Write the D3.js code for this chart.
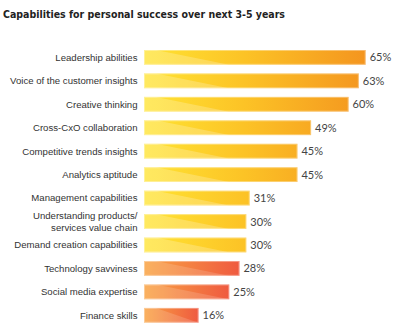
<!DOCTYPE html>
<html><head><meta charset="utf-8">
<script src="https://cdn.jsdelivr.net/npm/d3@7"></script>
<style>body{margin:0;background:#fff}svg{display:block}</style>
</head><body>
<svg id="c" width="400" height="332"></svg>
<script>
const title = "Capabilities for personal success over next 3-5 years";
const categories = [
  "Leadership abilities",
  "Voice of the customer insights",
  "Creative thinking",
  "Cross-CxO collaboration",
  "Competitive trends insights",
  "Analytics aptitude",
  "Management capabilities",
  "Understanding products/ services value chain",
  "Demand creation capabilities",
  "Technology savviness",
  "Social media expertise",
  "Finance skills"
];
const values = [65, 63, 60, 49, 45, 45, 31, 30, 30, 28, 25, 16];
const groups = ["a","a","a","a","a","a","a","a","a","b","b","b"];

const svg = d3.select("#c");
const x = d3.scaleLinear().domain([0, 100]).range([144, 485]);
const y = d3.scaleBand().domain(categories).range([50, 322.7]).paddingInner(0.37).paddingOuter(0);

const defs = svg.append("defs");
const gA = defs.append("linearGradient").attr("id","gA").attr("gradientUnits","userSpaceOnUse")
  .attr("x1", x(0)).attr("x2", x(65)).attr("y1",0).attr("y2",0);
gA.append("stop").attr("offset",0).attr("stop-color","#ffe433");
gA.append("stop").attr("offset",0.45).attr("stop-color","#fcc326");
gA.append("stop").attr("offset",1).attr("stop-color","#f4951f");
const gB = defs.append("linearGradient").attr("id","gB")
  .attr("x1",0).attr("x2",1).attr("y1",0).attr("y2",0);
gB.append("stop").attr("offset",0).attr("stop-color","#f9a444");
gB.append("stop").attr("offset",1).attr("stop-color","#ef5a40");

svg.append("text").attr("x",3).attr("y",17.5)
  .attr("font-family","DejaVu Sans").attr("font-weight","bold").attr("font-size",10.5)
  .attr("fill","#222").attr("textLength",282).attr("lengthAdjust","spacingAndGlyphs")
  .text(title);

const data = categories.map((c,i)=>({c, v: values[i], g: groups[i]}));
const bars = svg.append("g").selectAll("g").data(data).join("g");

bars.append("rect")
  .attr("x", x(0)).attr("y", d=>y(d.c))
  .attr("width", d=>x(d.v)-x(0)).attr("height", y.bandwidth())
  .attr("fill", d=> d.g==="a" ? "url(#gA)" : "url(#gB)");

// lighter lower-left diagonal facet
bars.append("path")
  .attr("d", d=>{
    const x0 = x(0), x1 = x(d.v), t = y(d.c), b = t + y.bandwidth();
    const xd = Math.min(x0 + 85, x1);
    return `M${x0},${t}L${x0+12},${t}L${xd},${b}L${x0},${b}Z`;
  })
  .attr("fill", "#fff").attr("fill-opacity", d=> d.g==="a" ? 0.22 : 0.15);

bars.append("rect")
  .attr("x", x(0)+0.5).attr("y", d=>y(d.c)+0.5)
  .attr("width", d=>x(d.v)-x(0)-1).attr("height", y.bandwidth()-1)
  .attr("fill","none").attr("stroke","#fff").attr("stroke-opacity",0.35).attr("stroke-width",1);

// category labels
const lab = bars.append("text")
  .attr("x", 137.5).attr("text-anchor","end")
  .attr("font-family","Liberation Sans, Arial").attr("font-size",9.6).attr("fill","#333");
lab.each(function(d){
  const parts = d.c.includes("/ ") ? [d.c.split("/ ")[0]+"/", d.c.split("/ ")[1]] : [d.c];
  const cy = y(d.c) + y.bandwidth()/2;
  const lh = 11.5;
  const t = d3.select(this);
  parts.forEach((p,k)=>{
    t.append("tspan").attr("x",137.5)
      .attr("y", cy + (k - (parts.length-1)/2)*lh + 3.4).text(p);
  });
});

// value labels
bars.append("text")
  .attr("x", d=>x(d.v)+4).attr("y", d=>y(d.c)+y.bandwidth()/2+4)
  .attr("font-family","Lato").attr("font-size",11).attr("fill","#444")
  .text(d=>d.v+"%");
</script>
</body></html>
